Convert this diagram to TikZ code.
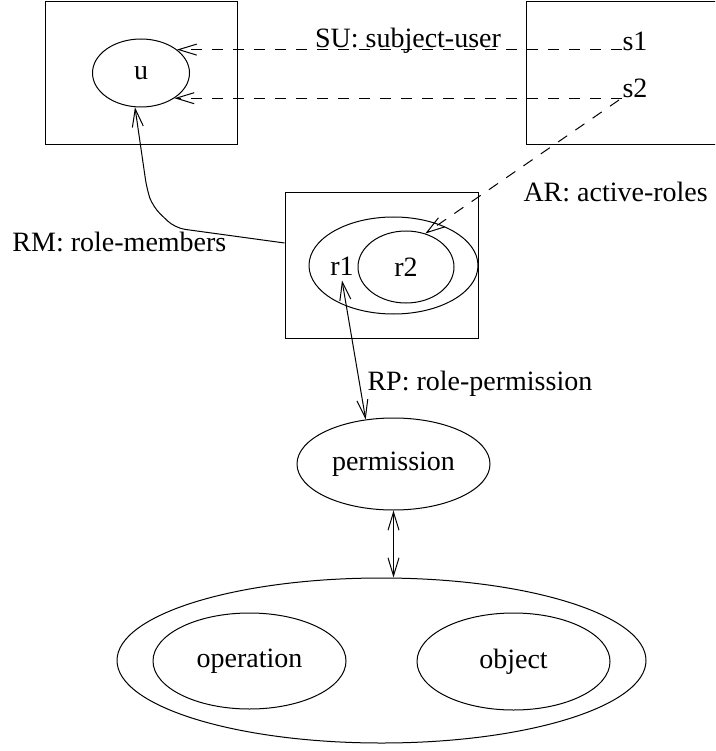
\documentclass[tikz,border=0pt]{standalone}
\usepackage{fontspec}
\setmainfont{Liberation Serif}
\usetikzlibrary{shapes.geometric,arrows.meta}
\begin{document}
\begin{tikzpicture}[x=1pt,y=-1pt, line width=1pt,
  every node/.style={font=\fontsize{28}{34}\selectfont},
  box/.style={draw, rectangle, inner sep=0pt},
  ell/.style={draw, ellipse, inner sep=0pt},
  lbl/.style={inner sep=0pt},
  arr/.style={-{Straight Barb[length=18pt,width=11pt]}},
  darr/.style={{Straight Barb[length=18pt,width=11pt]}-{Straight Barb[length=18pt,width=11pt]}},
  dsh/.style={dash pattern=on 11pt off 10pt}]
\useasboundingbox (0,0) rectangle (715,751);
\fill[white] (0,0) rectangle (715,751);
\clip (0,0) rectangle (715,751);

% boxes
\node[box, minimum width=192pt, minimum height=143pt] (ubox) at (141,73.5) {};
\node[box, minimum width=214pt, minimum height=143pt] (sbox) at (633,73.5) {};
\node[box, minimum width=193pt, minimum height=145pt] (rbox) at (381.5,265.5) {};

% ellipses
\node[ell, minimum width=97pt, minimum height=68pt] (u) at (141,73) {u};
\node[ell, minimum width=169pt, minimum height=97pt] (r1) at (393.5,265.5) {};
\node[ell, minimum width=96pt, minimum height=72pt] (r2) at (406,267) {r2};
\node[lbl, anchor=base] (r1t) at (342,275) {r1};
\node[ell, minimum width=193pt, minimum height=92pt] (perm) at (393.5,464) {permission};
\node[ell, minimum width=529pt, minimum height=165pt] (pair) at (381.5,660.5) {};
\node[ell, minimum width=193pt, minimum height=96pt] (op) at (249.5,661) {operation};
\node[ell, minimum width=193pt, minimum height=97pt] (obj) at (513.5,661.5) {object};

% labels
\node[lbl, anchor=base west] (s1) at (622,51) {s1};
\node[lbl, anchor=base west] (s2) at (622,98) {s2};
\node[lbl, anchor=base] (su) at (408,48) {SU: subject-user};
\node[lbl, anchor=base west] (ar) at (523,202) {AR: active-roles};
\node[lbl, anchor=base west] (rm) at (12,251) {RM: role-members};
\node[lbl, anchor=base west] (rp) at (367,390) {RP: role-permission};

% connectors
\draw[arr,dsh] (s1.base west |- u.33) -- (u.33);
\draw[arr,dsh] (s2.base west |- u.-37) -- (u.-37);
\draw[arr,dsh] ([xshift=-3pt,yshift=-2pt]s2.base west) -- (r2.60);
\draw[arr, rounded corners=10pt] ([yshift=22.5pt]rbox.west) -- (175,228) -- (153,207) -- (147,190) -- (u.-100);
\draw[darr] ([yshift=-5pt]r1t.south) -- (perm.122);
\draw[darr] (perm.south) -- (perm.south |- pair.north);
\end{tikzpicture}
\end{document}
